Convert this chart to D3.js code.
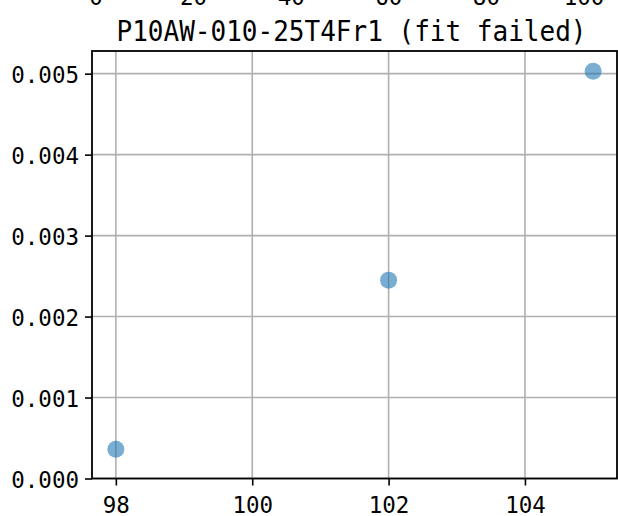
<!DOCTYPE html>
<html>
<head>
<meta charset="utf-8">
<script src="https://cdn.jsdelivr.net/npm/d3@7"></script>
<style>
  html, body { margin: 0; padding: 0; background: #fff; }
  svg { display: block; }
  text { font-family: "DejaVu Sans Mono", "Liberation Mono", monospace; fill: #000; }
</style>
</head>
<body>
<svg id="chart" width="618" height="516"></svg>
<script>
// ---- data ----
const xValues = [98, 102, 105];
const yValues = [0.00036, 0.00245, 0.00503];
const xTicks = [98, 100, 102, 104];
const yTicks = [0.000, 0.001, 0.002, 0.003, 0.004, 0.005];
const aboveTicks = [0, 20, 40, 60, 80, 100];   // cut-off tick labels of the panel above
const title = "P10AW-010-25T4Fr1 (fit failed)";

// ---- layout ----
const svg = d3.select("#chart");
const plotL = 92, plotR = 617, plotT = 51, plotB = 478.5;

const x = d3.scaleLinear().domain([97.65, 105.35]).range([plotL, plotR]);
const y = d3.scaleLinear().domain([0, 0.00528]).range([plotB, plotT]);
const xAbove = d3.scaleLinear().domain([0, 100]).range([96, 584]);

// partial labels from the panel above
svg.append("g").selectAll("text").data(aboveTicks).join("text")
  .attr("x", d => xAbove(d)).attr("y", 5)
  .attr("text-anchor", "middle")
  .style("font-size", "22.5px")
  .text(d => d);

// grid
const grid = svg.append("g");
grid.selectAll("line.gx").data(xTicks).join("line").attr("class", "gx")
  .attr("x1", d => x(d)).attr("x2", d => x(d))
  .attr("y1", plotT).attr("y2", plotB)
  .attr("stroke", "#b0b0b0").attr("stroke-width", 1.6);
grid.selectAll("line.gy").data(yTicks).join("line").attr("class", "gy")
  .attr("x1", plotL).attr("x2", plotR)
  .attr("y1", d => y(d)).attr("y2", d => y(d))
  .attr("stroke", "#b0b0b0").attr("stroke-width", 1.6);

// points
svg.append("g").selectAll("circle").data(xValues.map((v, i) => [v, yValues[i]])).join("circle")
  .attr("cx", d => x(d[0])).attr("cy", d => y(d[1]))
  .attr("r", 8.5)
  .attr("fill", "#1f77b4").attr("fill-opacity", 0.6);

// axes via d3
const xAxis = d3.axisBottom(x).tickValues(xTicks).tickSize(7).tickPadding(8).tickFormat(d3.format("d"));
const yAxis = d3.axisLeft(y).tickValues(yTicks).tickSize(7).tickPadding(6).tickFormat(d => d3.format(".3f")(d));

const gx = svg.append("g").attr("transform", `translate(0,${plotB})`).call(xAxis);
const gy = svg.append("g").attr("transform", `translate(${plotL},0)`).call(yAxis);
[gx, gy].forEach(g => {
  g.select(".domain").remove();
  g.selectAll(".tick line").attr("stroke", "#000").attr("stroke-width", 1.6);
  g.selectAll(".tick text").style("font-size", "22.5px")
    .style("font-family", '"DejaVu Sans Mono", "Liberation Mono", monospace').attr("fill", "#000");
});
gx.selectAll(".tick text").attr("dy", null).attr("y", 34.5);
gy.selectAll(".tick text").attr("dy", "0.38em");

// spines
svg.append("rect")
  .attr("x", plotL).attr("y", plotT)
  .attr("width", plotR - plotL).attr("height", plotB - plotT)
  .attr("fill", "none").attr("stroke", "#000").attr("stroke-width", 1.8);

// title
svg.append("text")
  .attr("x", (plotL + plotR) / 2 - 3).attr("y", 41)
  .attr("text-anchor", "middle")
  .attr("textLength", 470).attr("lengthAdjust", "spacingAndGlyphs")
  .style("font-size", "28px")
  .text(title);
</script>
</body>
</html>
